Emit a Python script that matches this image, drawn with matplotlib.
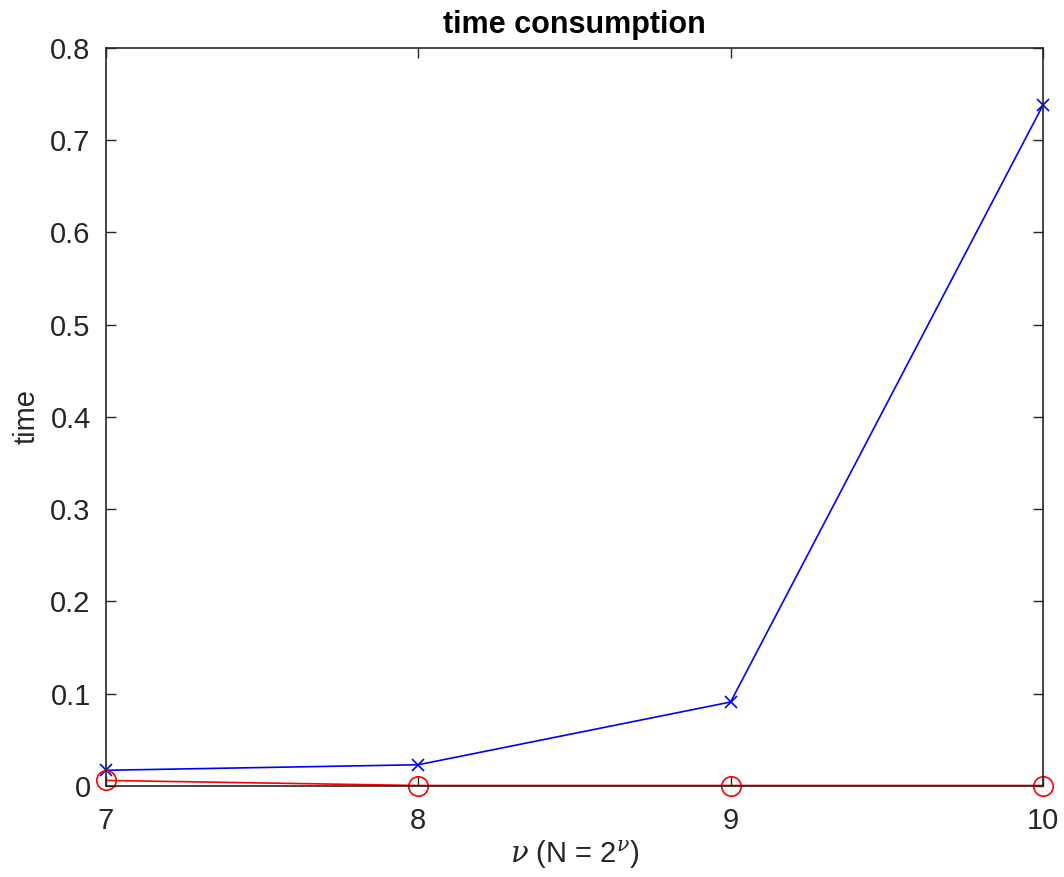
import numpy as np
import matplotlib
matplotlib.use("Agg")
import matplotlib.pyplot as plt

# 数据
nu = [7, 8, 9, 10]
t_blue = [0.017, 0.023, 0.091, 0.738]
t_red = [0.006, 0.0005, 0.0005, 0.0005]

plt.rcParams['font.family'] = ['Liberation Sans', 'DejaVu Sans']
plt.rcParams['mathtext.fontset'] = 'dejavuserif'
c_ax = '#262626'

fig = plt.figure(figsize=(10.64, 8.77), dpi=100)
ax = fig.add_axes([0.0996, 0.1038, 0.8806, 0.8415])

ax.plot(nu, t_blue, '-x', color='blue', linewidth=1.2, markersize=9, markeredgewidth=1.2, clip_on=False)
ax.plot(nu, t_red, '-o', color='red', linewidth=1.2, markersize=14, markerfacecolor='none',
        markeredgewidth=1.2, clip_on=False)

ax.set_xlim(7, 10)
ax.set_ylim(0, 0.8)
ax.set_xticks(nu)
ax.set_yticks(np.arange(0, 0.81, 0.1))
ax.set_yticklabels(['0', '0.1', '0.2', '0.3', '0.4', '0.5', '0.6', '0.7', '0.8'])

ax.tick_params(direction='in', length=7, width=1, colors=c_ax, labelsize=21, top=True, right=True)
ax.tick_params(axis='x', pad=15)
ax.tick_params(axis='y', pad=11)
for s in ax.spines.values():
    s.set_color(c_ax)
    s.set_linewidth(1.2)

ax.set_xlabel(r'$\nu$ (N = 2$^{\nu}$)', fontsize=21, color=c_ax, labelpad=3)
ax.set_ylabel('time', fontsize=21, color=c_ax, labelpad=7)
ax.set_title('time consumption', fontsize=22, fontweight='bold', color='black', pad=11)

fig.savefig('out.png', dpi=100)
